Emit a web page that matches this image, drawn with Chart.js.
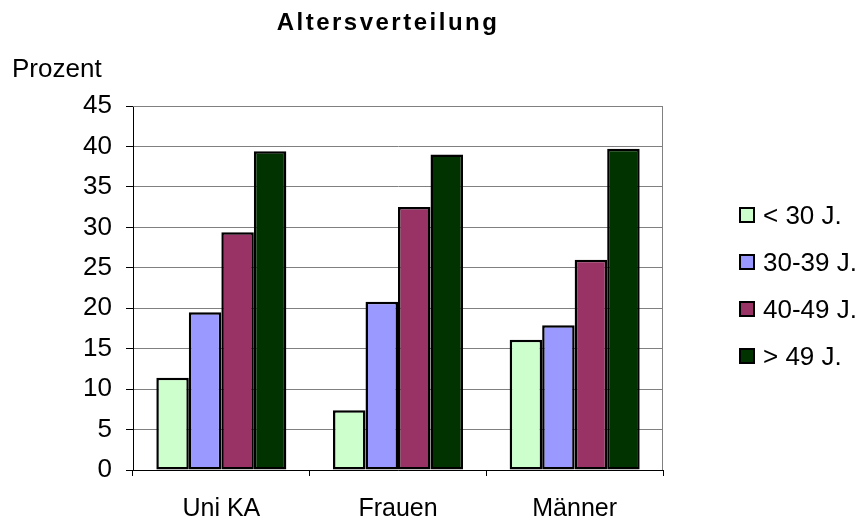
<!DOCTYPE html>
<html lang="de">
<head>
<meta charset="utf-8">
<title>Altersverteilung</title>
<script src="https://cdn.jsdelivr.net/npm/chart.js@4/dist/chart.umd.min.js"></script>
<style>
  html, body { margin: 0; padding: 0; background: #ffffff; }
  #wrap { width: 862px; height: 520px; position: relative; }
</style>
</head>
<body>
<div id="wrap"><canvas id="ageChart" width="862" height="520"></canvas></div>
<script>
// Altersverteilung - Anteile je Altersgruppe in Prozent
const categories = ['Uni KA', 'Frauen', 'Männer'];
const seriesLabels = ['< 30 J.', '30-39 J.', '40-49 J.', '> 49 J.'];
const under30 = [11.4, 7.4, 16.1];
const age30to39 = [19.5, 20.8, 17.9];
const age40to49 = [29.4, 32.5, 26.0];
const over49 = [39.4, 39.0, 39.7];
const yMin = 0;
const yMax = 45;
const yStep = 5;

const seriesColors = ['#ccffcc', '#9999ff', '#993366', '#003300'];
const FONT = '"Liberation Sans", Arial, sans-serif';

// plot area box (canvas pixels)
const PLOT = { left: 133, top: 106, right: 663, bottom: 470 };

const seriesValues = [under30, age30to39, age40to49, over49];
const datasets = seriesValues.map((vals, i) => ({
  label: seriesLabels[i],
  data: vals,
  backgroundColor: seriesColors[i],
  borderColor: '#000000',
  borderWidth: 2.5,
  borderSkipped: false,
  categoryPercentage: 0.736,
  barPercentage: 1.0
}));

// title, axis caption, plot frame and legend
const decorations = {
  id: 'decorations',
  beforeDatasetsDraw(chart) {
    const { ctx, chartArea } = chart;
    ctx.save();
    ctx.strokeStyle = '#808080';
    ctx.lineWidth = 1;
    ctx.beginPath();
    ctx.moveTo(chartArea.left, chartArea.top + 0.5);
    ctx.lineTo(chartArea.right - 0.5, chartArea.top + 0.5);
    ctx.lineTo(chartArea.right - 0.5, chartArea.bottom);
    ctx.stroke();
    ctx.restore();
  },
  afterDraw(chart) {
    const { ctx } = chart;
    ctx.save();
    ctx.fillStyle = '#000000';
    ctx.textBaseline = 'alphabetic';

    ctx.font = 'bold 24px ' + FONT;
    ctx.textAlign = 'center';
    if ('letterSpacing' in ctx) ctx.letterSpacing = '2.5px';
    ctx.fillText('Altersverteilung', 388, 30);
    if ('letterSpacing' in ctx) ctx.letterSpacing = '0px';

    ctx.font = '26px ' + FONT;
    ctx.textAlign = 'left';
    ctx.fillText('Prozent', 12, 77);

    // legend
    chart.data.datasets.forEach((ds, i) => {
      const cy = 215 + i * 47;
      ctx.fillStyle = ds.backgroundColor;
      ctx.fillRect(740, cy - 7, 14, 14);
      ctx.strokeStyle = '#000000';
      ctx.lineWidth = 2;
      ctx.strokeRect(740, cy - 7, 14, 14);
      ctx.fillStyle = '#000000';
      ctx.fillText(ds.label, 763, cy + 9);
    });
    ctx.restore();
  }
};

new Chart(document.getElementById('ageChart'), {
  type: 'bar',
  data: { labels: categories, datasets: datasets },
  options: {
    responsive: false,
    animation: false,
    devicePixelRatio: 1,
    layout: {
      padding: { left: 0, top: PLOT.top, right: 862 - PLOT.right, bottom: 0 }
    },
    plugins: {
      legend: { display: false },
      title: { display: false },
      tooltip: { enabled: false }
    },
    scales: {
      x: {
        offset: true,
        afterFit(scale) { scale.height = 520 - PLOT.bottom; },
        border: { display: true, color: '#000000', width: 1 },
        grid: {
          offset: true,
          drawOnChartArea: false,
          drawTicks: true,
          tickLength: 6,
          color: '#000000'
        },
        ticks: {
          color: '#000000',
          font: { family: FONT, size: 25 },
          padding: 18,
          maxRotation: 0
        }
      },
      y: {
        min: yMin,
        max: yMax,
        afterFit(scale) { scale.width = PLOT.left; },
        border: { display: true, color: '#000000', width: 1 },
        grid: {
          color: '#808080',
          tickColor: '#000000',
          tickLength: 7
        },
        ticks: {
          stepSize: yStep,
          color: '#000000',
          font: { family: FONT, size: 26 },
          padding: 14
        }
      }
    }
  },
  plugins: [decorations]
});
</script>
</body>
</html>
